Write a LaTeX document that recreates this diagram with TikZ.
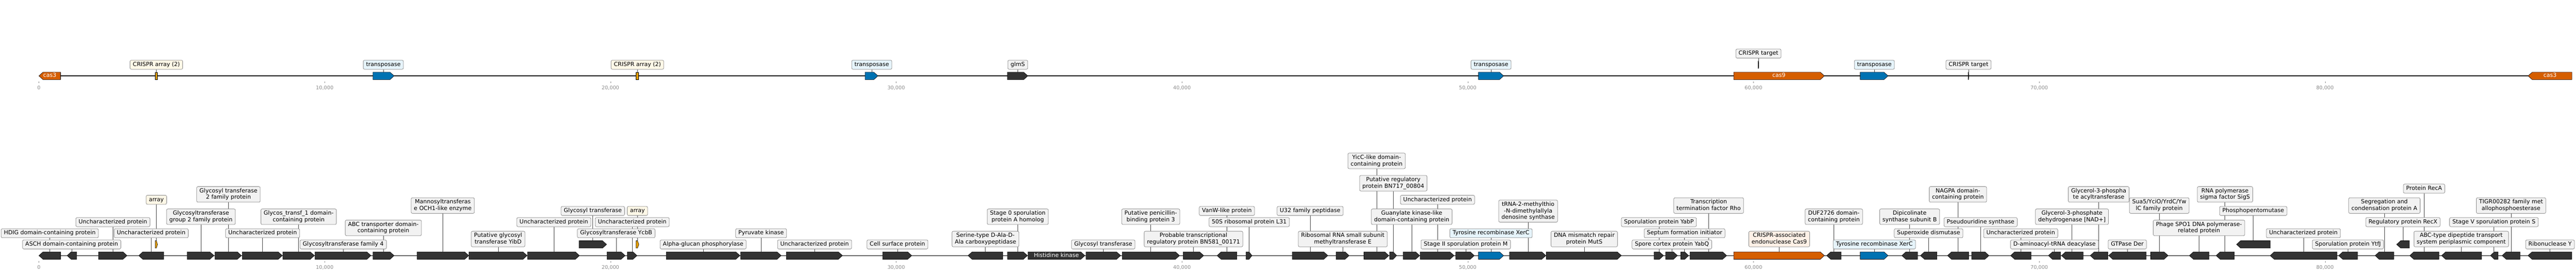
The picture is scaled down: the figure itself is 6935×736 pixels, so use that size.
\documentclass[tikz,border=0pt]{standalone}
\usepackage{fontspec}
\setmainfont{DejaVu Sans}
\usetikzlibrary{backgrounds}
\definecolor{fdark}{HTML}{333333}
\definecolor{forange}{HTML}{D55E00}
\definecolor{fblue}{HTML}{0072B2}
\definecolor{farray}{HTML}{E69F00}
\definecolor{lgray}{HTML}{F2F2F2}
\definecolor{lcream}{HTML}{FFF8E7}
\definecolor{lblue}{HTML}{E6F4FB}
\definecolor{lorange}{HTML}{FDF0E6}
\definecolor{lborder}{HTML}{8C8C8C}
\definecolor{tickgray}{HTML}{8A8A8A}
\newcommand{\lfont}{\fontsize{15.28}{17.6}\selectfont}
\newcommand{\tfont}{\fontsize{13.5}{15}\selectfont}
\newcommand{\lstr}{\rule[-3.6pt]{0pt}{15.2pt}}
\tikzset{
  lbl/.style={draw=lborder, line width=1.1pt, rounded corners=3.5pt, fill=lgray,
    inner xsep=7.5pt, inner ysep=4.55pt, align=center, font=\lfont,
    execute at begin node=\lstr, execute at end node=\lstr},
  inl/.style={text=white, inner sep=0pt, font=\lfont, execute at begin node=\lstr},
  conn/.style={draw=black!72, line width=0.9pt},
  track/.style={draw=black, line width=1.8pt},
  fk/.style={fill=fdark, draw=black, line width=0.8pt},
  fo/.style={fill=forange, draw=black, line width=0.8pt},
  fb/.style={fill=fblue, draw=black, line width=0.8pt},
  fa/.style={fill=farray, draw=black, line width=0.8pt},
  tickl/.style={text=tickgray, font=\tfont, inner sep=0pt},
  tickm/.style={draw=tickgray, line width=0.8pt}
}
\newcommand{\featr}[4]{\pgfmathsetmacro\fhl{min(11,0.5*(#2-#1))}%
  \draw[#4] (#1,#3-10) -- ({#2-\fhl},#3-10) -- (#2,#3) -- ({#2-\fhl},#3+10) -- (#1,#3+10) -- cycle;}
\newcommand{\featl}[4]{\pgfmathsetmacro\fhl{min(11,0.5*(#2-#1))}%
  \draw[#4] (#2,#3-10) -- ({#1+\fhl},#3-10) -- (#1,#3) -- ({#1+\fhl},#3+10) -- (#2,#3+10) -- cycle;}
\newcommand{\glab}[6][lgray]{%
  \node[lbl,fill=#1] (#2) at (#3,#4) {#5};
  \coordinate (#2f) at (#3,#6);
  \begin{scope}[on background layer]\draw[conn] (#2.south) -- (#2f);\end{scope}}
\begin{document}
\begin{tikzpicture}[x=1pt,y=-1pt]
\useasboundingbox (0,0) rectangle (6935,736);
% ---------------- tracks
\draw[track] (104.8,204) -- (6924,204);
\draw[track] (104.8,687) -- (6924,687);
% ---------------- axes
\foreach \k/\t in {0/0,1/{10,000},2/{20,000},3/{30,000},4/{40,000},5/{50,000},6/{60,000},7/{70,000},8/{80,000}}{
  \draw[tickm] (104.8+769.3*\k,219.5) -- (104.8+769.3*\k,223.5);
  \node[tickl] (ta\k) at (104.8+769.3*\k,236) {\t};
  \draw[tickm] (104.8+769.3*\k,702.5) -- (104.8+769.3*\k,706.5);
  \node[tickl] (tb\k) at (104.8+769.3*\k,719) {\t};
}
% ---------------- top features
\featl{104.8}{163}{204}{fo}
\draw[fa] (418.3,194) rectangle (423.3,214);
\featr{1004}{1061}{204}{fb}
\draw[fa] (1712.5,194) rectangle (1719.4,214);
\featr{2329}{2363.5}{204}{fb}
\featr{2712}{2767}{204}{fk}
\featr{3980}{4048}{204}{fb}
\featr{4667.3}{4911.5}{204}{fo}
\featr{4733.4}{4735}{174}{fk}
\featr{5008}{5083}{204}{fb}
\featr{5298.8}{5300.4}{204}{fk}
\featl{6806}{6924}{204}{fo}
\node[inl] (c3a) at (134,204) {cas3};
\node[inl] (c9) at (4789,204) {cas9};
\node[inl] (c3b) at (6865,204) {cas3};
% ---------------- top labels
\glab[lcream]{t2}{421}{174}{CRISPR array (2)}{194}
\glab[lblue]{t3}{1032}{174}{transposase}{194}
\glab[lcream]{t4}{1716}{174}{CRISPR array (2)}{194}
\glab[lblue]{t5}{2347}{174}{transposase}{194}
\glab{t6}{2740}{174}{glmS}{194}
\glab[lblue]{t7}{4014}{174}{transposase}{194}
\glab{t9}{4734}{144}{CRISPR target}{164}
\glab[lblue]{t10}{5046}{174}{transposase}{194}
\glab{t11}{5299.5}{174}{CRISPR target}{194}
% ---------------- bottom features
\featl{104.8}{163}{687}{fk}
\featl{180.6}{206.6}{687}{fk}
\featr{265}{342}{687}{fk}
\featl{373.5}{441}{687}{fk}
\featr{418}{424}{657}{fa}
\featr{504}{576}{687}{fk}
\featr{578.5}{650}{687}{fk}
\featr{652}{760}{687}{fk}
\featr{761.5}{846.4}{687}{fk}
\featr{848}{998.7}{687}{fk}
\featr{1004}{1061}{687}{fk}
\featr{1123}{1262}{687}{fk}
\featr{1262.5}{1419}{687}{fk}
\featr{1420}{1560}{687}{fk}
\featr{1559}{1633}{657}{fk}
\featr{1634}{1683}{687}{fk}
\featr{1689}{1715}{687}{fk}
\featr{1712.5}{1720}{657}{fa}
\featr{1793.6}{1992}{687}{fk}
\featr{1994}{2103}{687}{fk}
\featr{2116.6}{2268}{687}{fk}
\featr{2376.5}{2454.6}{687}{fk}
\featl{2606}{2699.5}{687}{fk}
\featr{2712.5}{2766}{687}{fk}
\featr{2767.6}{2920.7}{687}{fk}
\featr{2923.7}{3017}{687}{fk}
\featr{3021}{3175.5}{687}{fk}
\featr{3185.5}{3240.5}{687}{fk}
\featl{3276.5}{3330}{687}{fk}
\featr{3354.6}{3370.6}{687}{fk}
\featr{3479}{3574.7}{687}{fk}
\featr{3597}{3632}{687}{fk}
\featr{3672}{3739}{687}{fk}
\featr{3740.8}{3760}{687}{fk}
\featr{3777.5}{3822}{687}{fk}
\featr{3823.5}{3914.5}{687}{fk}
\featr{3919}{3969}{687}{fk}
\featr{3980}{4048}{687}{fb}
\featr{4063.8}{4161.7}{687}{fk}
\featr{4163}{4365}{687}{fk}
\featr{4453}{4478.5}{687}{fk}
\featr{4484}{4516}{687}{fk}
\featr{4525}{4546}{687}{fk}
\featr{4549.7}{4648.5}{687}{fk}
\featr{4667.3}{4911.5}{687}{fo}
\featl{4917.6}{4956.6}{687}{fk}
\featr{5008}{5083}{687}{fb}
\featl{5120}{5162.5}{687}{fk}
\featl{5170}{5214.5}{687}{fk}
\featl{5242.8}{5300}{687}{fk}
\featr{5308}{5354.6}{687}{fk}
\featl{5412.7}{5467.8}{687}{fk}
\featl{5514.5}{5547.4}{687}{fk}
\featl{5549.7}{5608}{687}{fk}
\featl{5627}{5674.5}{687}{fk}
\featl{5676.8}{5777.8}{687}{fk}
\featr{5790}{5836.8}{687}{fk}
\featl{5894}{5947}{687}{fk}
\featl{5966}{6015}{687}{fk}
\featl{6021}{6112}{657}{fk}
\featl{6111.5}{6291.4}{687}{fk}
\featl{6296}{6347}{687}{fk}
\featl{6394}{6444.4}{687}{fk}
\featl{6452}{6486.5}{657}{fk}
\featl{6487.3}{6566}{687}{fk}
\featl{6573}{6681}{687}{fk}
\featl{6704.6}{6725.3}{687}{fk}
\featl{6736}{6784.2}{687}{fk}
\featl{6805.6}{6923.5}{687}{fk}
\node[inl] (hk) at (2844,687) {Histidine kinase};
% ---------------- bottom labels
\glab{b1}{134}{627}{HDIG domain-containing protein}{677}
\glab{b2}{193}{657}{ASCH domain-containing protein}{677}
\glab{b3}{304}{597}{Uncharacterized protein}{677}
\glab{b4}{407}{627}{Uncharacterized protein}{677}
\glab[lcream]{b5}{421}{537}{array}{647}
\glab{b6}{541}{582.5}{Glycosyltransferase\\group 2 family protein}{677}
\glab{b7}{615}{522.5}{Glycosyl transferase\\2 family protein}{677}
\glab{b8}{707}{627}{Uncharacterized protein}{677}
\glab{b9}{804}{582.5}{Glycos\_transf\_1 domain-\\containing protein}{677}
\glab{b10}{924}{657}{Glycosyltransferase family 4}{677}
\glab{b11}{1032}{612.5}{ABC transporter domain-\\containing protein}{677}
\glab{b12}{1192}{552.5}{Mannosyltransferas\\e OCH1-like enzyme}{677}
\glab{b13}{1341}{642.5}{Putative glycosyl\\transferase YibD}{677}
\glab{b14}{1491}{597}{Uncharacterized protein}{677}
\glab{b15}{1596}{567}{Glycosyl transferase}{647}
\glab{b16}{1659}{627}{Glycosyltransferase YcbB}{677}
\glab{b17}{1702}{597}{Uncharacterized protein}{677}
\glab[lcream]{b18}{1716}{567}{array}{647}
\glab{b19}{1893}{657}{Alpha-glucan phosphorylase}{677}
\glab{b20}{2049}{627}{Pyruvate kinase}{677}
\glab{b21}{2193}{657}{Uncharacterized protein}{677}
\glab{b22}{2416}{657}{Cell surface protein}{677}
\glab{b23}{2653}{642.5}{Serine-type D-Ala-D-\\Ala carboxypeptidase}{677}
\glab{b24}{2740}{582.5}{Stage 0 sporulation\\protein A homolog}{677}
\glab{b26}{2970}{657}{Glycosyl transferase}{677}
\glab{b27}{3098}{582.5}{Putative penicillin-\\binding protein 3}{677}
\glab{b28}{3213}{642.5}{Probable transcriptional\\regulatory protein BN581\_00171}{677}
\glab{b29}{3303}{567}{VanW-like protein}{677}
\glab{b30}{3363}{597}{50S ribosomal protein L31}{677}
\glab{b31}{3527}{567}{U32 family peptidase}{677}
\glab{b32}{3615}{642.5}{Ribosomal RNA small subunit\\methyltransferase E}{677}
\glab{b33}{3706}{432.5}{YicC-like domain-\\containing protein}{677}
\glab{b34}{3751}{492.5}{Putative regulatory\\protein BN717\_00804}{677}
\glab{b35}{3800.5}{582.5}{Guanylate kinase-like\\domain-containing protein}{677}
\glab{b36}{3870}{537}{Uncharacterized protein}{677}
\glab{b37}{3946}{657}{Stage II sporulation protein M}{677}
\glab[lblue]{b38}{4014}{627}{Tyrosine recombinase XerC}{677}
\glab{b39}{4114}{567.5}{tRNA-2-methylthio\\-N-dimethylallyla\\denosine synthase}{677}
\glab{b40}{4265}{642.5}{DNA mismatch repair\\protein MutS}{677}
\glab{b41}{4466}{597}{Sporulation protein YabP}{677}
\glab{b42}{4501}{657}{Spore cortex protein YabQ}{677}
\glab{b43}{4535}{627}{Septum formation initiator}{677}
\glab{b44}{4600}{552.5}{Transcription\\termination factor Rho}{677}
\glab[lorange]{b45}{4790}{642.5}{CRISPR-associated\\endonuclease Cas9}{677}
\glab{b46}{4937}{582.5}{DUF2726 domain-\\containing protein}{677}
\glab[lblue]{b47}{5046}{657}{Tyrosine recombinase XerC}{677}
\glab{b48}{5141}{582.5}{Dipicolinate\\synthase subunit B}{677}
\glab{b49}{5192}{627}{Superoxide dismutase}{677}
\glab{b50}{5271}{522.5}{NAGPA domain-\\containing protein}{677}
\glab{b51}{5332}{597}{Pseudouridine synthase}{677}
\glab{b52}{5440}{627}{Uncharacterized protein}{677}
\glab{b53}{5531}{657}{D-aminoacyl-tRNA deacylase}{677}
\glab{b54}{5578}{582.5}{Glycerol-3-phosphate\\dehydrogenase [NAD+]}{677}
\glab{b55}{5650}{522.5}{Glycerol-3-phospha\\te acyltransferase}{677}
\glab{b56}{5727}{657}{GTPase Der}{677}
\glab{b57}{5813}{552.5}{Sua5/YciO/YrdC/Yw\\lC family protein}{677}
\glab{b58}{5920}{612.5}{Phage SPO1 DNA polymerase-\\related protein}{677}
\glab{b59}{5990}{522.5}{RNA polymerase\\sigma factor SigS}{677}
\glab{b60}{6066}{567}{Phosphopentomutase}{647}
\glab{b61}{6201}{627}{Uncharacterized protein}{677}
\glab{b62}{6321}{657}{Sporulation protein YtfJ}{677}
\glab{b63}{6419}{552.5}{Segregation and\\condensation protein A}{677}
\glab{b64}{6469}{597}{Regulatory protein RecX}{647}
\glab{b65}{6526}{507}{Protein RecA}{677}
\glab{b66}{6626}{642.5}{ABC-type dipeptide transport\\system periplasmic component}{677}
\glab{b67}{6714}{597}{Stage V sporulation protein S}{677}
\glab{b68}{6760}{552.5}{TIGR00282 family met\\allophosphoesterase}{677}
\glab{b69}{6865}{657}{Ribonuclease Y}{677}
\end{tikzpicture}
\end{document}
